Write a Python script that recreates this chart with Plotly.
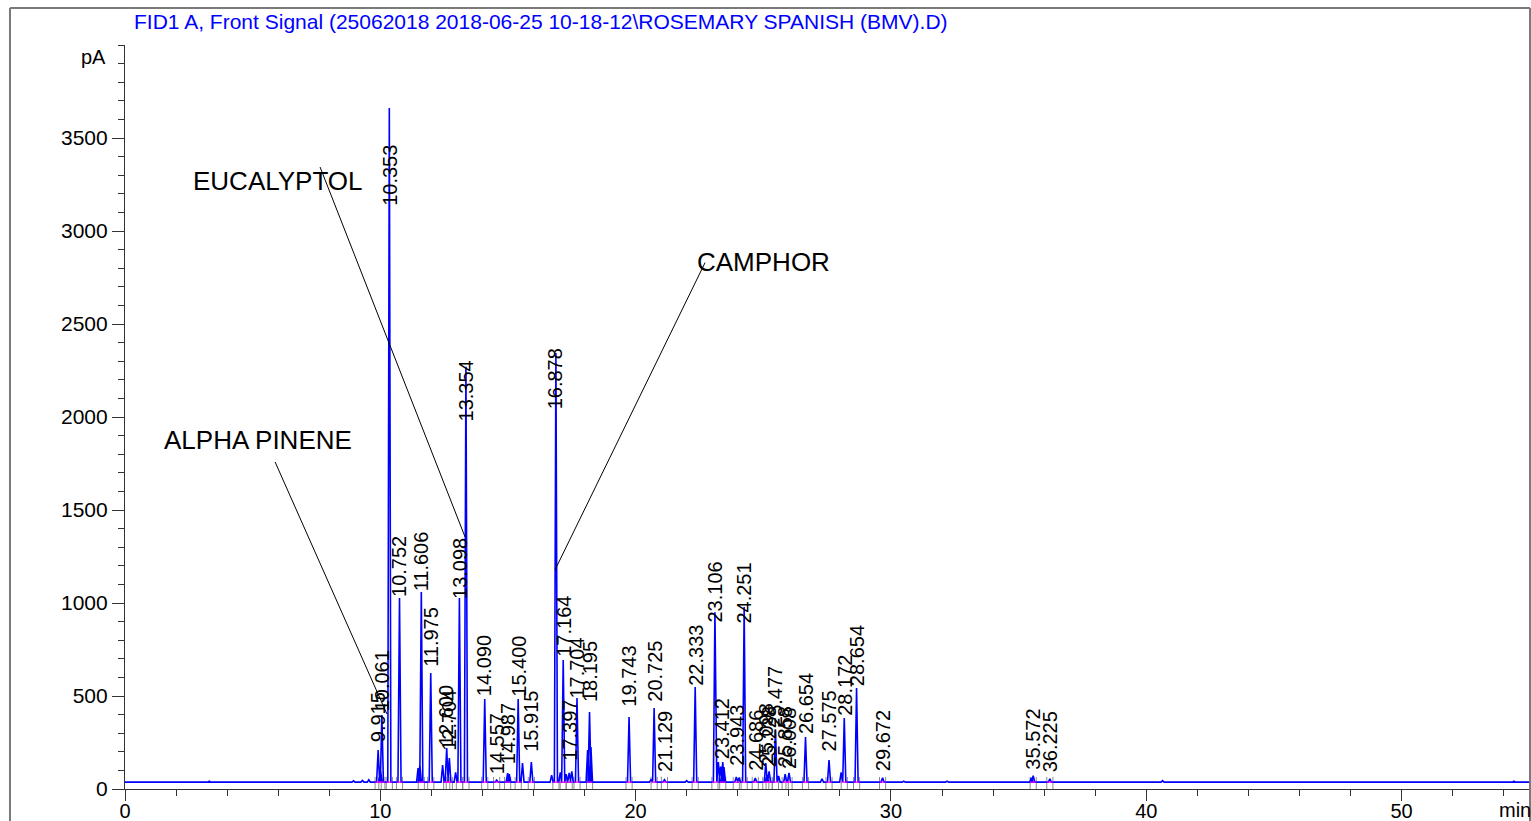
import plotly.graph_objects as go

# ---------------- data ----------------
baseline_pA = 37

# labelled peaks: retention time (min), apex height (pA), label base height (pA)
peak_times = [9.915, 10.061, 10.353, 10.752, 11.606, 11.975, 12.600, 12.704, 13.098, 13.354,
              14.090, 14.557, 14.987, 15.400, 15.915, 16.878, 17.164, 17.397, 17.704, 18.195,
              19.743, 20.725, 21.129, 22.333, 23.106, 23.412, 23.943, 24.251, 24.686, 25.098,
              25.228, 25.477, 25.858, 26.008, 26.654, 27.575, 28.172, 28.654, 29.672, 35.572,
              36.225]
peak_heights = [210, 398, 3661, 1027, 1059, 624, 220, 167, 1027, 2270,
                484, 48, 85, 484, 145, 2344, 693, 86, 489, 414,
                387, 435, 50, 548, 950, 145, 65, 978, 59, 140,
                95, 317, 80, 86, 280, 156, 382, 543, 60, 71,
                54]
label_base = [247, 414, 3129, 1027, 1059, 650, 226, 199, 1016, 1973,
              495, 75, 129, 489, 194, 2038, 704, 145, 478, 462,
              435, 462, 86, 548, 892, 156, 118, 882, 91, 129,
              110, 328, 110, 100, 290, 194, 387, 548, 91, 97,
              86]

# small unlabelled peaks / bumps: time (min), apex height (pA)
minor_times = [3.30, 8.95, 9.30, 9.55, 10.00, 11.48, 11.55, 12.44, 12.95, 15.05, 15.57, 16.71,
               17.05, 17.28, 17.50, 18.12, 18.25, 20.60, 22.00, 23.24, 23.33, 23.46, 24.05,
               25.15, 25.60, 27.30, 28.05, 30.50, 32.20, 35.50, 40.64, 54.40]
minor_heights = [42, 44, 46, 50, 118, 113, 130, 129, 90, 80, 140, 75,
                 90, 80, 95, 210, 226, 50, 45, 145, 120, 118, 60,
                 75, 70, 55, 90, 42, 42, 60, 45, 42]

# callouts: text, text centre (min, pA), line start (min, pA), line end (min, pA)
callout_text = ["ALPHA PINENE", "EUCALYPTOL", "CAMPHOR"]
callout_text_pos = [(5.19, 1876), (6.01, 3269), (25.01, 2833)]
callout_line_start = [(5.88, 1758), (7.64, 3344), (22.72, 2830)]
callout_line_end = [(10.26, 403), (13.32, 1355), (16.84, 1177)]

x_ticks = [0, 10, 20, 30, 40, 50]
y_ticks = [0, 500, 1000, 1500, 2000, 2500, 3000, 3500]

title_text = "FID1 A, Front Signal (25062018 2018-06-25 10-18-12\\ROSEMARY SPANISH (BMV).D)"

# ---------------- build signal ----------------
HALF_W = 0.06
all_peaks = sorted(list(zip(peak_times, peak_heights)) + list(zip(minor_times, minor_heights)))
sx, sy = [0.0], [baseline_pA]
for t, h in all_peaks:
    sx += [t - HALF_W, t, t + HALF_W]
    sy += [baseline_pA, h, baseline_pA]
sx.append(55.07)
sy.append(baseline_pA)

FONT = "Liberation Sans, Arial, sans-serif"

fig = go.Figure()

# integration baseline (magenta) segments
mx, my = [], []
for t in peak_times:
    mx += [t - 0.12, t + 0.12, None]
    my += [baseline_pA, baseline_pA, None]

# integration event marks (gray)
gx, gy = [], []
for t in peak_times:
    for e in (t - 0.12, t + 0.12):
        gx += [e, e, None]
        gy += [0, 65, None]

fig.add_trace(go.Scatter(x=gx, y=gy, mode="lines", line=dict(color="#8c8c8c", width=1),
                         hoverinfo="skip", showlegend=False))
fig.add_trace(go.Scatter(x=sx, y=sy, mode="lines", line=dict(color="#0000FF", width=1.6),
                         showlegend=False))
fig.add_trace(go.Scatter(x=mx, y=my, mode="lines", line=dict(color="#FF00FF", width=1.2),
                         hoverinfo="skip", showlegend=False))

annotations = []
for t, lb in zip(peak_times, label_base):
    annotations.append(dict(x=t, y=lb, xref="x", yref="y", text=f"{t:.3f}", textangle=-90,
                            showarrow=False, xanchor="center", yanchor="bottom",
                            font=dict(family=FONT, size=20, color="black"), borderpad=0))

shapes = []
for txt, (tx, ty), (x0, y0), (x1, y1) in zip(callout_text, callout_text_pos,
                                             callout_line_start, callout_line_end):
    annotations.append(dict(x=tx, y=ty, xref="x", yref="y", text=txt, showarrow=False,
                            xanchor="center", yanchor="middle",
                            font=dict(family=FONT, size=26, color="black")))
    shapes.append(dict(type="line", xref="x", yref="y", x0=x0, y0=y0, x1=x1, y1=y1,
                       line=dict(color="black", width=1)))

# title, axis unit labels
annotations.append(dict(x=0.005, y=1.031, xref="paper", yref="paper", text=title_text,
                        showarrow=False, xanchor="left", yanchor="middle",
                        font=dict(family=FONT, size=21, color="#0000FF")))
annotations.append(dict(x=-0.0121, y=0.984, xref="paper", yref="paper", text="pA",
                        showarrow=False, xanchor="right", yanchor="middle",
                        font=dict(family=FONT, size=20, color="black")))
annotations.append(dict(x=0.9886, y=-0.028, xref="paper", yref="paper", text="min",
                        showarrow=False, xanchor="center", yanchor="middle",
                        font=dict(family=FONT, size=20, color="black")))

# outer gray frame
frame_l, frame_r, frame_t = -0.0818, 0.9993, 1.0497
shapes += [
    dict(type="line", xref="paper", yref="paper", x0=frame_l, x1=frame_l, y0=-0.1, y1=frame_t,
         line=dict(color="#7a7a7a", width=2)),
    dict(type="line", xref="paper", yref="paper", x0=frame_l, x1=frame_r, y0=frame_t, y1=frame_t,
         line=dict(color="#7a7a7a", width=2)),
    dict(type="line", xref="paper", yref="paper", x0=frame_r, x1=frame_r, y0=-0.1, y1=frame_t,
         line=dict(color="#7a7a7a", width=2)),
]

fig.update_layout(
    width=1531, height=821,
    margin=dict(l=125, r=0, t=45, b=32, autoexpand=False),
    paper_bgcolor="white", plot_bgcolor="white",
    font=dict(family=FONT, size=21, color="black"),
    annotations=annotations, shapes=shapes,
    showlegend=False,
)
fig.update_xaxes(range=[0, 55.07], automargin=False, showgrid=False, zeroline=False, showline=True,
                 linecolor="#333333", linewidth=1.2, ticks="outside", ticklen=11,
                 tickcolor="#333333", tickwidth=1.2, tickvals=x_ticks,
                 ticktext=[str(v) for v in x_ticks], tickfont=dict(size=20),
                 ticklabelstandoff=-7,
                 minor=dict(dtick=2, tick0=0, ticks="outside", ticklen=6, tickcolor="#333333"))
fig.update_yaxes(range=[0, 4000], automargin=False, showgrid=False, zeroline=False, showline=True,
                 linecolor="#333333", linewidth=1.2, ticks="outside", ticklen=12,
                 tickcolor="#333333", tickwidth=1.2, tickvals=y_ticks,
                 ticktext=[str(v) for v in y_ticks], tickfont=dict(size=21),
                 minor=dict(dtick=100, tick0=0, ticks="outside", ticklen=6, tickcolor="#333333"))

fig.write_html("out.html", config={"displayModeBar": False},
               post_script="document.body.style.margin='0px';document.body.style.overflow='hidden';")
